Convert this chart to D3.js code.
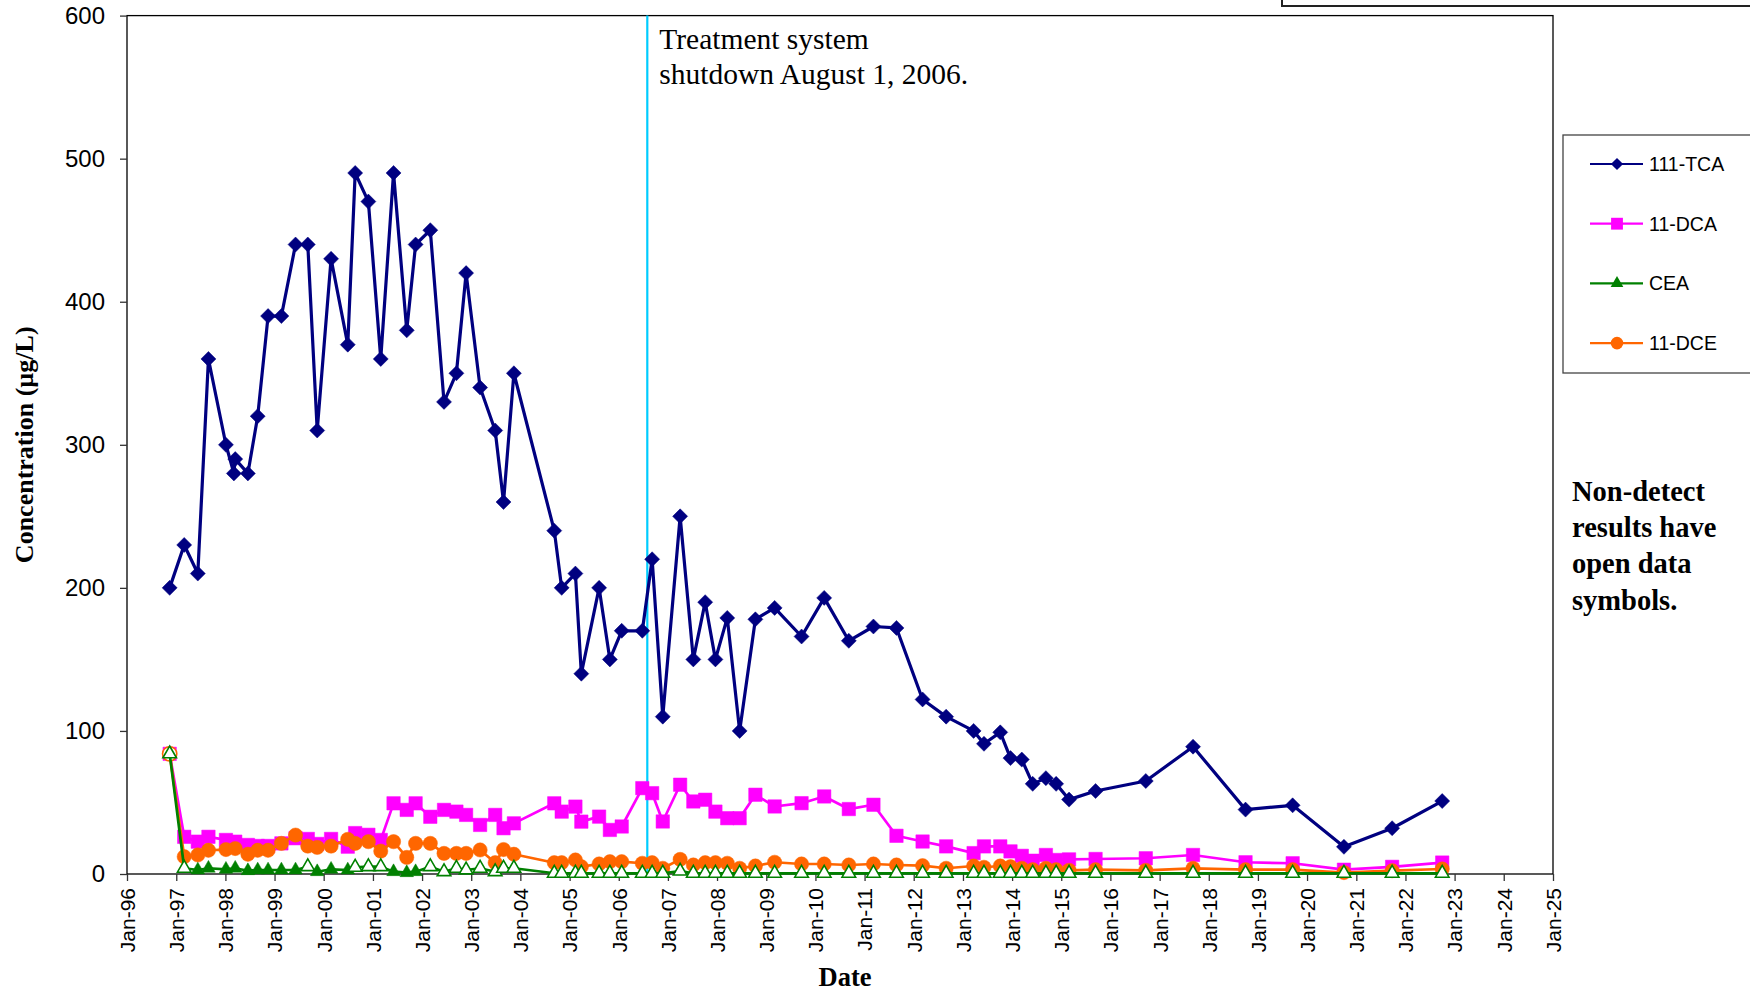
<!DOCTYPE html>
<html>
<head>
<meta charset="utf-8">
<script src="https://cdn.jsdelivr.net/npm/d3@7"></script>
<style>
  html, body { margin: 0; padding: 0; background: #fff; }
  svg { display: block; }
</style>
</head>
<body>
<svg id="chart" width="1750" height="992"></svg>
<script>
// ---------------- DATA ----------------
const sampleDates = [
  "1996-11-13","1997-03-01","1997-06-10","1997-08-28","1998-01-05","1998-03-05","1998-03-15","1998-06-17",
  "1998-08-29","1998-11-14","1999-02-21","1999-06-06","1999-09-05","1999-11-14","2000-02-25","2000-06-28",
  "2000-08-22","2000-11-28","2001-02-28","2001-06-03","2001-09-09","2001-11-14","2002-03-03","2002-06-13",
  "2002-09-13","2002-11-24","2003-03-08","2003-06-28","2003-08-29","2003-11-14","2004-09-09","2004-11-03",
  "2005-02-13","2005-03-29","2005-08-08","2005-10-27","2006-01-23","2006-06-25","2006-09-06","2006-11-24",
  "2007-04-02","2007-07-09","2007-10-05","2007-12-20","2008-03-17","2008-06-17","2008-10-12","2009-03-04",
  "2009-09-20","2010-03-07","2010-09-06","2011-03-08","2011-08-26","2012-03-07","2012-08-29","2013-03-21",
  "2013-06-06","2013-10-05","2013-12-20","2014-03-14","2014-06-03","2014-09-09","2014-11-24","2015-02-28",
  "2015-09-13","2016-09-20","2017-09-06","2018-10-01","2019-09-16","2020-10-01","2021-09-24","2022-10-01"
];

const tca = [
  200,230,210,360,300,280,290,280,
  320,390,390,440,440,310,430,370,
  490,470,360,490,380,440,450,330,
  350,420,340,310,260,350,240,200,
  210,140,200,150,170,170,220,110,
  250,150,190,150,179,100,178,186,
  166,193,163,173,172,122,110,100,
  91,99,81,80,63,67,63,52,
  58,65,89,45,48,19,32,51
];

const dca = [
  84,26,22.6,26,23.8,null,22.6,20.3,
  19.6,19.6,21.4,25,24.5,21,24.5,19.1,
  28.6,27.4,23.8,49.4,44.8,49.4,40,44.8,
  43.6,41.3,34.3,41.3,32,35.4,49.4,43.6,
  47.1,36.6,40.1,30.8,33.2,60,56.5,36.7,
  62.4,50.7,51.9,43.6,39,39,55.4,47.2,
  49.5,54.2,45.4,48.4,26.7,22.7,19.3,14.6,
  19.3,19.3,15.8,12.7,9.3,13.3,9.8,10.2,
  10.5,11,13.3,8.2,7.5,3,5,8
];

const cea = [
  84,4,2.8,4,3.3,null,4,2.3,
  2.8,2.8,2.8,2.8,5.1,1.6,3.3,2.8,
  4.7,5.1,5.1,1.6,0.9,1.6,5.1,1.6,
  4,2.8,4,1.6,4,4,0.5,0.5,
  0.5,0.5,0.5,0.5,0.5,0.5,0.5,0.5,
  2,0.5,0.5,0.5,0.5,0.5,0.5,0.5,
  0.5,0.5,0.5,0.5,0.5,0.5,0.5,0.5,
  0.5,0.5,0.5,0.5,0.5,0.5,0.5,0.5,
  0.5,0.5,0.5,0.5,0.5,0.5,0.5,0.5
];
// 1 = non-detect (open symbol)
const ceaOpen = [
  1,1,0,0,0,0,0,0,
  0,0,0,0,1,0,0,0,
  1,1,1,0,0,0,1,1,
  1,1,1,1,1,1,1,1,
  1,1,1,1,1,1,1,1,
  1,1,1,1,1,1,1,1,
  1,1,1,1,1,1,1,1,
  1,1,1,1,1,1,1,1,
  1,1,1,1,1,1,1,1
];

const dce = [
  84,12.1,13.3,16.6,17.1,null,17.8,13.8,
  16.6,16.6,21.4,27.2,19.5,18.6,19.5,24.2,
  21.4,22.6,16,22.6,11.6,21.4,21.4,14.4,
  14.4,14.4,16.8,7.9,17.1,13.8,7.9,7.9,
  9.8,5.1,7.0,8.6,8.6,7.5,7.9,4.0,
  10.2,6.3,7.9,7.9,7.5,4.0,5.6,8.2,
  7.0,7.0,6.3,7.0,6.3,5.8,4.0,5.6,
  4.7,5.6,5.1,4.0,3.0,4.0,3.0,2.6,
  3.0,2.6,4.0,3.0,3.0,1,2.3,3.5
];
const dceOpen = sampleDates.map((d, i) => i === 0 ? 1 : 0);
const dcaOpen = sampleDates.map(() => 0);
const tcaOpen = sampleDates.map(() => 0);

const seriesNames = ["111-TCA", "11-DCA", "CEA", "11-DCE"];
const seriesColors = ["#000080", "#FF00FF", "#008000", "#FF6600"];
const yTicks = [0, 100, 200, 300, 400, 500, 600];
const xTickYears = d3.range(1996, 2026);
const shutdownDate = "2006-08-01";
const annotationLines = ["Treatment system", "shutdown August 1, 2006."];
const noteLines = ["Non-detect", "results have", "open data", "symbols."];

// ---------------- LAYOUT ----------------
const W = 1750, H = 992;
const plot = { left: 127, right: 1553, top: 15.6, bottom: 874 };
const parse = d3.timeParse("%Y-%m-%d");

const x = d3.scaleTime()
  .domain([new Date(1996, 0, 1), new Date(2025, 0, 1)])
  .range([plot.left, plot.right]);
const y = d3.scaleLinear().domain([0, 600]).range([plot.bottom, plot.top]);

const svg = d3.select("#chart");
const sans = "'Liberation Sans', Arial, sans-serif";
const serif = "'Liberation Serif', 'Times New Roman', serif";

// top-right partial box
svg.append("rect")
  .attr("x", 1282).attr("y", -20).attr("width", 520).attr("height", 26)
  .attr("fill", "none").attr("stroke", "#222").attr("stroke-width", 2);

// plot frame
svg.append("rect")
  .attr("x", plot.left).attr("y", plot.top)
  .attr("width", plot.right - plot.left).attr("height", plot.bottom - plot.top)
  .attr("fill", "#fff").attr("stroke", "#000").attr("stroke-width", 1.3);

// axes
const yAxis = d3.axisLeft(y).tickValues(yTicks).tickSize(7).tickPadding(15).tickSizeOuter(0);
const gy = svg.append("g").attr("transform", `translate(${plot.left},0)`).call(yAxis);
gy.select(".domain").remove();
gy.selectAll(".tick line").attr("stroke", "#333").attr("stroke-width", 1.3);
gy.selectAll(".tick text").attr("font-family", sans).attr("font-size", 24).attr("fill", "#000");

const xAxis = d3.axisBottom(x)
  .tickValues(xTickYears.map(yr => new Date(yr, 0, 1)))
  .tickFormat(d3.timeFormat("%b-%y"))
  .tickSize(7).tickSizeOuter(0);
const gx = svg.append("g").attr("transform", `translate(0,${plot.bottom})`).call(xAxis);
gx.select(".domain").remove();
gx.selectAll(".tick line").attr("stroke", "#333").attr("stroke-width", 1.3);
gx.selectAll(".tick text")
  .attr("font-family", sans).attr("font-size", 21).attr("fill", "#000")
  .attr("transform", "rotate(-90)")
  .attr("text-anchor", "end")
  .attr("x", -14).attr("y", 0).attr("dy", "0.35em");

// axis titles
svg.append("text")
  .attr("transform", `translate(33,${(plot.top + plot.bottom) / 2}) rotate(-90)`)
  .attr("text-anchor", "middle")
  .attr("font-family", serif).attr("font-weight", "bold").attr("font-size", 26)
  .text("Concentration (µg/L)");
svg.append("text")
  .attr("x", (plot.left + plot.right) / 2 + 5).attr("y", 986)
  .attr("text-anchor", "middle")
  .attr("font-family", serif).attr("font-weight", "bold").attr("font-size", 26.5)
  .text("Date");

// shutdown line
svg.append("line")
  .attr("x1", x(parse(shutdownDate))).attr("x2", x(parse(shutdownDate)))
  .attr("y1", plot.top).attr("y2", plot.bottom)
  .attr("stroke", "#00CCFF").attr("stroke-width", 2.2);

svg.append("g").selectAll("text").data(annotationLines).join("text")
  .attr("x", x(parse(shutdownDate)) + 12)
  .attr("y", (d, i) => 49 + i * 35)
  .attr("font-family", serif).attr("font-size", 29.5).attr("fill", "#000")
  .text(d => d);

// symbols
const diamond = { draw(ctx, size) { const r = Math.sqrt(size) / 2; ctx.moveTo(0, -r); ctx.lineTo(r, 0); ctx.lineTo(0, r); ctx.lineTo(-r, 0); ctx.closePath(); } };
const symbolTypes = [diamond, d3.symbolSquare, d3.symbolTriangle, d3.symbolCircle];
const symbolSizes = [225, 180, 80, 160];
const legendSizes = [150, 140, 70, 125];
const lineWidths = [3.2, 2.7, 2.7, 2.7];

const makeSeries = (vals, open) => sampleDates.map((d, i) => ({ date: parse(d), v: vals[i], open: open[i] }));
const seriesData = [
  makeSeries(tca, tcaOpen),
  makeSeries(dca, dcaOpen),
  makeSeries(cea, ceaOpen),
  makeSeries(dce, dceOpen)
];

const line = d3.line().defined(d => d.v != null).x(d => x(d.date)).y(d => y(d.v));

// draw order: TCA, DCA, DCE, CEA (CEA on top)
const drawOrder = [0, 1, 3, 2];
drawOrder.forEach(si => {
  const data = seriesData[si];
  const g = svg.append("g");
  g.append("path")
    .datum(data.filter(d => d.v != null))
    .attr("d", line)
    .attr("fill", "none")
    .attr("stroke", seriesColors[si])
    .attr("stroke-width", lineWidths[si])
    .attr("stroke-linejoin", "round");
  const sym = d3.symbol().type(symbolTypes[si]).size(symbolSizes[si]);
  g.selectAll("path.m").data(data.filter(d => d.v != null)).join("path")
    .attr("class", "m")
    .attr("transform", d => `translate(${x(d.date)},${y(d.v)})`)
    .attr("d", sym)
    .attr("fill", d => d.open ? "#fff" : seriesColors[si])
    .attr("stroke", seriesColors[si])
    .attr("stroke-width", d => d.open ? 1.6 : 0.5);
});

// legend
const lg = svg.append("g");
lg.append("rect")
  .attr("x", 1563).attr("y", 135).attr("width", 220).attr("height", 238)
  .attr("fill", "#fff").attr("stroke", "#444").attr("stroke-width", 1.3);
seriesNames.forEach((name, i) => {
  const cy = 164 + i * 59.7;
  lg.append("line").attr("x1", 1590).attr("x2", 1643).attr("y1", cy).attr("y2", cy)
    .attr("stroke", seriesColors[i]).attr("stroke-width", 2.2);
  lg.append("path")
    .attr("transform", `translate(1617,${cy})`)
    .attr("d", d3.symbol().type(symbolTypes[i]).size(legendSizes[i]))
    .attr("fill", seriesColors[i]);
  lg.append("text").attr("x", 1649).attr("y", cy).attr("dy", "0.35em")
    .attr("font-family", sans).attr("font-size", 19.5).attr("fill", "#000")
    .text(name);
});

// note
svg.append("g").selectAll("text").data(noteLines).join("text")
  .attr("x", 1572).attr("y", (d, i) => 501 + i * 36.2)
  .attr("font-family", serif).attr("font-weight", "bold").attr("font-size", 28.5)
  .attr("fill", "#000")
  .text(d => d);
</script>
</body>
</html>
